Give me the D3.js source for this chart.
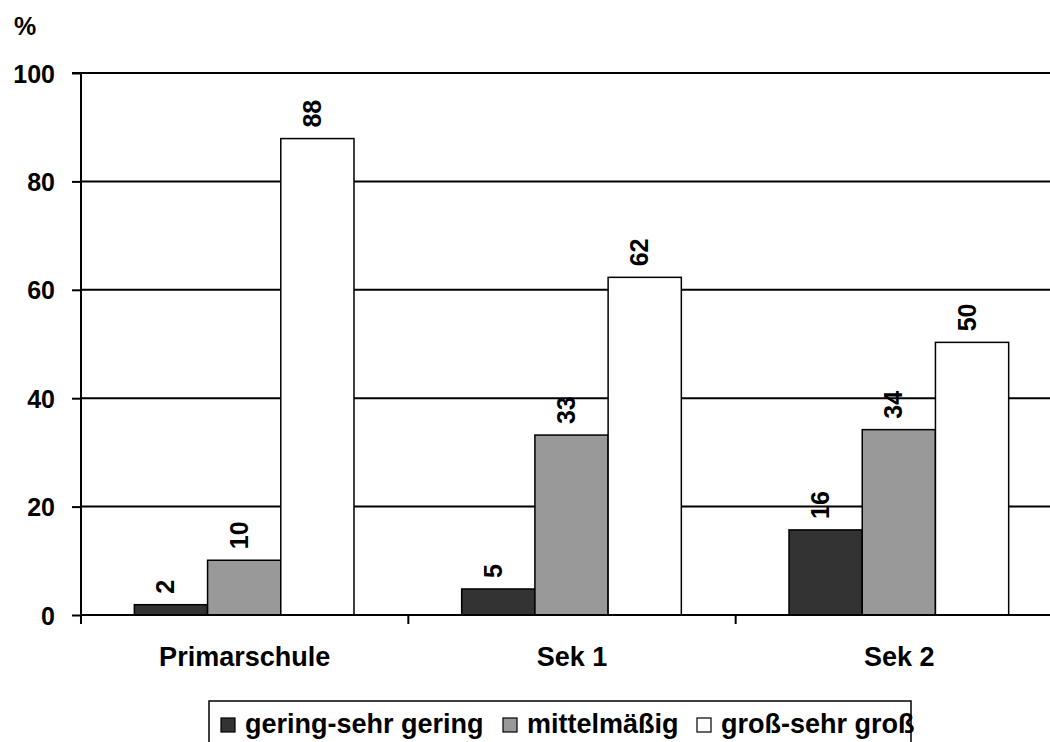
<!DOCTYPE html>
<html>
<head>
<meta charset="utf-8">
<script src="https://cdn.jsdelivr.net/npm/d3@7"></script>
<style>
  html, body { margin: 0; padding: 0; background: #fff; }
  svg { display: block; font-family: "Liberation Sans", Arial, sans-serif; font-weight: bold; }
</style>
</head>
<body>
<svg id="chart" width="1050" height="742"></svg>
<script>
const categories = ["Primarschule", "Sek 1", "Sek 2"];
const seriesNames = ["gering-sehr gering", "mittelmäßig", "groß-sehr groß"];
const geringValues = [1.9, 4.8, 15.7];
const mittelValues = [10.1, 33.2, 34.2];
const grossValues = [87.9, 62.3, 50.3];
const seriesColors = ["#333333", "#999999", "#ffffff"];
const yTicks = [0, 20, 40, 60, 80, 100];

const seriesValues = [geringValues, mittelValues, grossValues];
const data = [];
categories.forEach((c, ci) => {
  seriesNames.forEach((s, si) => {
    data.push({ cat: c, series: s, si: si, value: seriesValues[si][ci] });
  });
});

const svg = d3.select("#chart");
const plotLeft = 81, plotRight = 1063, plotTop = 73, plotBottom = 615;

const x = d3.scaleBand().domain(categories).range([plotLeft, plotRight]).padding(0);
const bw = x.bandwidth();
const xs = d3.scaleBand().domain(seriesNames).range([bw * 0.163, bw * 0.834]).padding(0);
const y = d3.scaleLinear().domain([0, 100]).range([plotBottom, plotTop]);

// gridlines
svg.append("g").selectAll("line").data(yTicks.filter(t => t > 0)).join("line")
  .attr("x1", plotLeft).attr("x2", 1050)
  .attr("y1", d => y(d)).attr("y2", d => y(d))
  .attr("stroke", "#000").attr("stroke-width", 2);

// bars
svg.append("g").selectAll("rect").data(data).join("rect")
  .attr("x", d => x(d.cat) + xs(d.series))
  .attr("y", d => y(d.value))
  .attr("width", xs.bandwidth())
  .attr("height", d => y(0) - y(d.value))
  .attr("fill", d => seriesColors[d.si])
  .attr("stroke", "#000").attr("stroke-width", 1.5);

// bar labels
svg.append("g").selectAll("text").data(data).join("text")
  .attr("transform", d => `translate(${x(d.cat) + xs(d.series) + xs.bandwidth() / 2 + 3.5},${y(d.value) - 11}) rotate(-90)`)
  .attr("text-anchor", "start")
  .attr("font-size", 25)
  .attr("fill", "#000")
  .text(d => Math.round(d.value));

// y axis
const yAxis = d3.axisLeft(y).tickValues(yTicks).tickSize(9).tickPadding(17).tickFormat(d3.format("d"));
const gy = svg.append("g").attr("transform", `translate(${plotLeft},0)`).call(yAxis);
gy.select(".domain").attr("stroke", "#000").attr("stroke-width", 2).attr("d", `M-9,${plotTop}H0V${plotBottom + 9}`);
gy.selectAll(".tick line").attr("stroke", "#000").attr("stroke-width", 2);
gy.selectAll(".tick text").attr("font-size", 25).attr("font-weight", "bold")
  .attr("font-family", "Liberation Sans, Arial, sans-serif").attr("fill", "#000").attr("dy", "0.36em");

// x axis
const xAxis = d3.axisBottom(x).tickSize(0).tickPadding(0);
const gx = svg.append("g").attr("transform", `translate(0,${plotBottom})`).call(xAxis);
gx.select(".domain").attr("stroke", "#000").attr("stroke-width", 2).attr("d", `M${plotLeft},0H1050`);
gx.selectAll(".tick text").attr("font-size", 27).attr("font-weight", "bold")
  .attr("font-family", "Liberation Sans, Arial, sans-serif").attr("fill", "#000")
  .attr("y", 51).attr("dy", 0);
// category separator ticks
const seps = categories.map(c => x(c)).concat([plotRight]);
svg.append("g").selectAll("line").data(seps).join("line")
  .attr("x1", d => d).attr("x2", d => d)
  .attr("y1", plotBottom).attr("y2", plotBottom + 9)
  .attr("stroke", "#000").attr("stroke-width", 2);

// % label
svg.append("text").attr("x", 14).attr("y", 35).attr("font-size", 25).attr("fill", "#000").text("%");

// legend
const lg = svg.append("g");
const legX = 209, legY = 701;
const itemStarts = [221, 503, 697];
lg.append("rect").attr("x", legX).attr("y", legY).attr("width", 702).attr("height", 60)
  .attr("fill", "#fff").attr("stroke", "#000").attr("stroke-width", 1.5);
seriesNames.forEach((s, i) => {
  lg.append("rect").attr("x", itemStarts[i]).attr("y", 718).attr("width", 14).attr("height", 14)
    .attr("fill", seriesColors[i]).attr("stroke", "#000").attr("stroke-width", 1.2);
  lg.append("text").attr("x", itemStarts[i] + 24).attr("y", 733).attr("font-size", 27)
    .attr("fill", "#000").text(s);
});
</script>
</body>
</html>
